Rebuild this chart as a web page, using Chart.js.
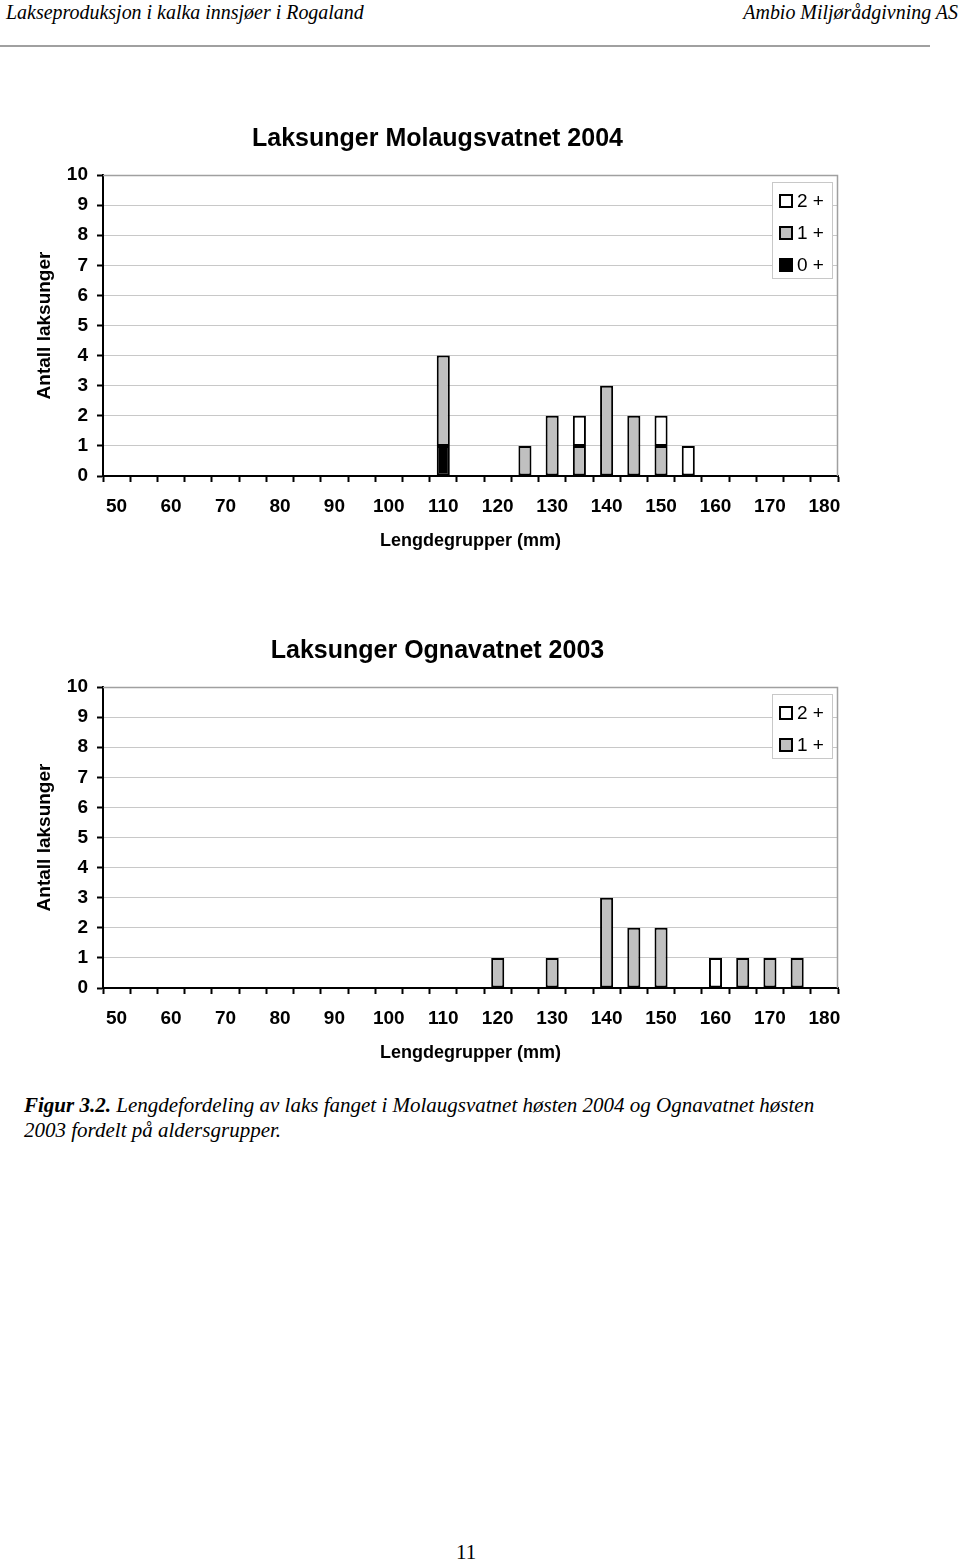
<!DOCTYPE html>
<html>
<head>
<meta charset="utf-8">
<script src="https://cdn.jsdelivr.net/npm/chart.js@4.4.0/dist/chart.umd.min.js"></script>
<style>
  body { margin: 0; width: 960px; height: 1563px; background: #fff; position: relative; overflow: hidden; }
  .hdr { position: absolute; top: 0; font-family: 'Liberation Serif', 'Times New Roman', serif; font-style: italic; font-size: 21px; color: #000; }
  #hl { left: 6px; transform: scaleX(0.95); transform-origin: left top; }
  #hr { right: 2px; transform: scaleX(0.95); transform-origin: right top; }
  #rule { position: absolute; left: 0; top: 45px; width: 930px; height: 2px; background: #a0a0a0; }
  canvas { position: absolute; left: 0; }
  #c1 { top: 110px; }
  #c2 { top: 622px; }
  #cap { position: absolute; left: 24px; top: 1093px; font-family: 'Liberation Serif', 'Times New Roman', serif; font-style: italic; font-size: 21px; line-height: 25px; color: #000; white-space: nowrap; }
  #pg { position: absolute; left: 456px; top: 1540px; font-family: 'Liberation Serif', 'Times New Roman', serif; font-size: 21px; color: #000; }
</style>
</head>
<body>
<div class="hdr" id="hl">Lakseproduksjon i kalka innsjøer i Rogaland</div>
<div class="hdr" id="hr">Ambio Miljørådgivning AS</div>
<div id="rule"></div>

<canvas id="c1" width="875" height="460"></canvas>
<canvas id="c2" width="875" height="460"></canvas>

<div id="cap"><b>Figur 3.2.</b> Lengdefordeling av laks fanget i Molaugsvatnet høsten 2004 og Ognavatnet høsten<br>2003 fordelt på aldersgrupper.</div>
<div id="pg">11</div>

<script>
// length groups (mm)
var lengthGroups = [50, 55, 60, 65, 70, 75, 80, 85, 90, 95, 100, 105, 110, 115, 120, 125, 130, 135, 140, 145, 150, 155, 160, 165, 170, 175, 180];

// Molaugsvatnet 2004
var mol0 = [0, 0, 0, 0, 0, 0, 0, 0, 0, 0, 0, 0, 1, 0, 0, 0, 0, 0, 0, 0, 0, 0, 0, 0, 0, 0, 0];
var mol1 = [0, 0, 0, 0, 0, 0, 0, 0, 0, 0, 0, 0, 3, 0, 0, 1, 2, 1, 3, 2, 1, 0, 0, 0, 0, 0, 0];
var mol2 = [0, 0, 0, 0, 0, 0, 0, 0, 0, 0, 0, 0, 0, 0, 0, 0, 0, 1, 0, 0, 1, 1, 0, 0, 0, 0, 0];

// Ognavatnet 2003
var ogn1 = [0, 0, 0, 0, 0, 0, 0, 0, 0, 0, 0, 0, 0, 0, 1, 0, 1, 0, 3, 2, 2, 0, 0, 1, 1, 1, 0];
var ogn2 = [0, 0, 0, 0, 0, 0, 0, 0, 0, 0, 0, 0, 0, 0, 0, 0, 0, 0, 0, 0, 0, 0, 1, 0, 0, 0, 0];

var ageLabels = ['0 +', '1 +', '2 +'];
var ageColors = ['#000000', '#c0c0c0', '#ffffff'];

Chart.defaults.font.family = "'Liberation Sans', Arial, sans-serif";
Chart.defaults.color = '#000';

// gray frame on top/right of plot
var frame = {
  id: 'frame',
  beforeDatasetsDraw: function(chart) {
    var a = chart.chartArea, ctx = chart.ctx;
    ctx.save();
    ctx.strokeStyle = '#a0a0a0';
    ctx.lineWidth = 1.5;
    ctx.beginPath();
    ctx.moveTo(a.left, a.top + 0.5);
    ctx.lineTo(a.right - 0.5, a.top + 0.5);
    ctx.lineTo(a.right - 0.5, a.bottom);
    ctx.stroke();
    ctx.restore();
  }
};

// boxed legend inside the plot, top right
var boxLegend = {
  id: 'boxLegend',
  afterDatasetsDraw: function(chart) {
    var a = chart.chartArea, ctx = chart.ctx;
    var items = chart.data.datasets.slice().reverse();
    var w = 60, rowH = 32;
    var h = 19 + rowH * (items.length - 1) + 13;
    var x = a.right - 6 - w, y = a.top + 7;
    ctx.save();
    ctx.fillStyle = '#fff';
    ctx.fillRect(x, y, w, h);
    ctx.strokeStyle = '#c8c8c8';
    ctx.lineWidth = 1;
    ctx.strokeRect(x + 0.5, y + 0.5, w, h);
    ctx.font = "19px 'Liberation Sans', Arial, sans-serif";
    ctx.textBaseline = 'middle';
    items.forEach(function(ds, i) {
      var cy = y + 19 + i * rowH;
      ctx.fillStyle = ds.backgroundColor;
      ctx.fillRect(x + 8, cy - 6, 12, 12);
      ctx.strokeStyle = '#000';
      ctx.lineWidth = 2;
      ctx.strokeRect(x + 8, cy - 6, 12, 12);
      ctx.fillStyle = '#000';
      ctx.fillText(ds.label, x + 25, cy + 1);
    });
    ctx.restore();
  }
};

function makeChart(id, title, series, names, colors) {
  var datasets = series.map(function(s, i) {
    return {
      label: names[i],
      data: s,
      backgroundColor: colors[i],
      borderColor: '#000',
      borderWidth: 2,
      borderSkipped: false,
      barPercentage: 0.48,
      categoryPercentage: 1.0
    };
  });
  return new Chart(document.getElementById(id), {
    type: 'bar',
    data: { labels: lengthGroups, datasets: datasets },
    options: {
      responsive: false,
      animation: false,
      layout: { padding: { left: 37, right: 37, top: 0, bottom: 0 } },
      plugins: {
        legend: { display: false },
        tooltip: { enabled: false },
        title: {
          display: true,
          text: title,
          font: { size: 25, weight: 'bold' },
          color: '#000',
          padding: { top: 14.5, bottom: 20.5 }
        }
      },
      scales: {
        x: {
          stacked: true,
          afterFit: function(s) { s.height = 94; },
          grid: { display: true, drawOnChartArea: false, drawTicks: true, tickLength: 6, tickColor: '#000', tickWidth: 2, offset: true },
          border: { display: true, color: '#000', width: 2 },
          ticks: {
            autoSkip: false,
            maxRotation: 0,
            padding: 13,
            font: { size: 19, weight: 'bold' },
            color: '#000',
            callback: function(v, i) { return i % 2 === 0 ? this.getLabelForValue(v) : ''; }
          },
          title: {
            display: true,
            text: 'Lengdegrupper (mm)',
            font: { size: 18, weight: 'bold' },
            color: '#000',
            padding: { top: 0, bottom: 18 }
          }
        },
        y: {
          stacked: true,
          min: 0,
          max: 10,
          afterFit: function(s) { s.width = 66; },
          grid: { color: '#c8c8c8', lineWidth: 1, drawTicks: true, tickLength: 6, tickColor: '#000', tickWidth: 2 },
          border: { display: true, color: '#000', width: 2 },
          ticks: {
            stepSize: 1,
            padding: 9,
            font: { size: 19, weight: 'bold' },
            color: '#000'
          },
          title: {
            display: true,
            text: 'Antall laksunger',
            font: { size: 19, weight: 'bold', lineHeight: 0.8 },
            color: '#000',
            padding: { top: 0, bottom: 0 }
          }
        }
      }
    },
    plugins: [frame, boxLegend]
  });
}

makeChart('c1', 'Laksunger Molaugsvatnet 2004', [mol0, mol1, mol2], ageLabels, ageColors);
makeChart('c2', 'Laksunger Ognavatnet 2003', [ogn1, ogn2], ageLabels.slice(1), ageColors.slice(1));
</script>
</body>
</html>
